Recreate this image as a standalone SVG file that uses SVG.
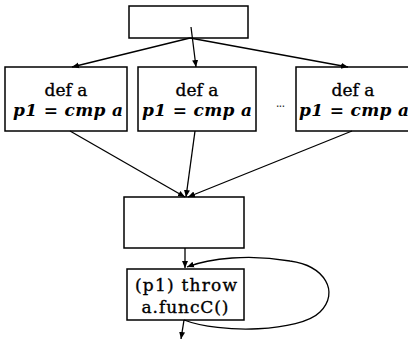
<svg xmlns="http://www.w3.org/2000/svg" width="408" height="341" viewBox="0 0 408 341">
<defs>
<marker id="ah" markerWidth="8" markerHeight="8" refX="7" refY="4" orient="auto" markerUnits="userSpaceOnUse">
<path d="M0,1 L7,4 L0,7 Z" fill="#000"/>
</marker>
<style>
.box{fill:#fff;stroke:#000;stroke-width:1.5}
.c{fill:none;stroke:#000;stroke-width:1.3;marker-end:url(#ah)}
.t1{font-family:"DejaVu Serif",serif;font-size:17px;text-anchor:middle;fill:#000;stroke:#000;stroke-width:0.35}
.t2{font-family:"DejaVu Serif",serif;font-size:17px;font-weight:bold;font-style:italic;text-anchor:middle;fill:#000}
</style>
</defs>
<rect width="408" height="341" fill="#fff"/>
<g id="top"><rect class="box" x="129" y="6" width="119" height="32"/></g>
<g id="defA1"><rect class="box" x="5" y="67" width="122" height="64"/>
<text class="t1" x="66" y="96" textLength="43">def a</text>
<text class="t2" x="68" y="116" textLength="110">p1 = cmp a</text></g>
<g id="defA2"><rect class="box" x="138" y="67" width="118" height="64"/>
<text class="t1" x="197" y="96" textLength="43">def a</text>
<text class="t2" x="197" y="116" textLength="110">p1 = cmp a</text></g>
<text x="280" y="111" font-family="DejaVu Sans, sans-serif" font-size="12" text-anchor="middle" fill="#333" letter-spacing="-1">···</text>
<g id="defA3"><rect class="box" x="296" y="67" width="116" height="64"/>
<text class="t1" x="353" y="96" textLength="43">def a</text>
<text class="t2" x="354" y="116" textLength="110">p1 = cmp a</text></g>
<g id="merge"><rect class="box" x="124" y="197" width="120" height="51"/></g>
<g id="throw"><rect class="box" x="127" y="269" width="117" height="51"/>
<text class="t1" x="186" y="291" textLength="102">(p1) throw</text>
<text class="t1" x="185" y="313" textLength="87">a.funcC()</text></g>
<g id="connectors">
<path class="c" d="M190,38 L72,67"/>
<path class="c" d="M191,27 L196,67"/>
<path class="c" d="M190,38 L348,67"/>
<path class="c" d="M70,131 L185,197"/>
<path class="c" d="M195,131 L186,197"/>
<path class="c" d="M352,131 L188,197"/>
<path class="c" d="M185,248 L185,268"/>
<path class="c" d="M184,320 C220,334 300,332 320,312 C340,292 325,266 290,261 C250,254 210,258 187,267"/>
<path class="c" d="M184,320 L181,339"/>
</g>
</svg>
